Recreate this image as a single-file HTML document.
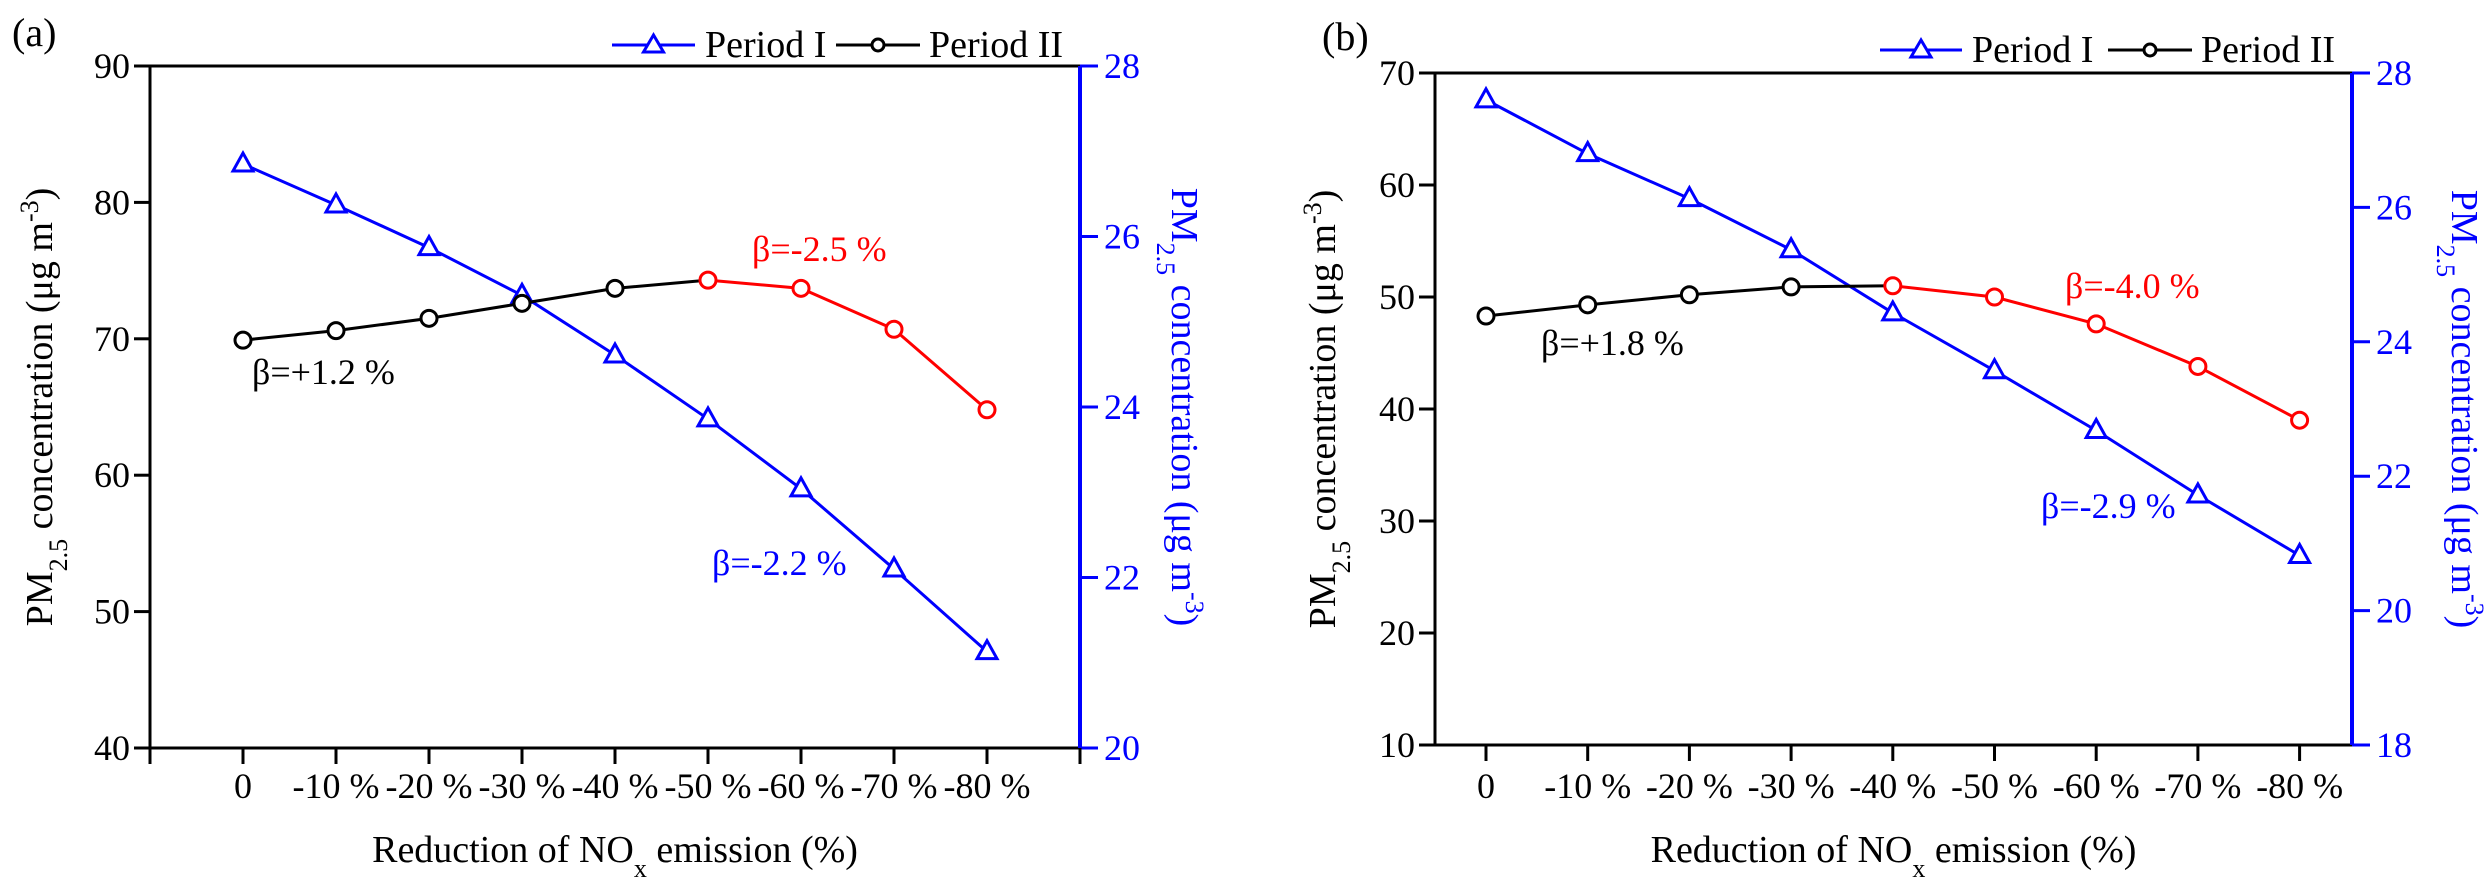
<!DOCTYPE html>
<html><head><meta charset="utf-8"><style>
body{margin:0;background:#fff}
svg, svg text{font-family:"Liberation Serif","DejaVu Serif",serif}
</style></head><body>
<svg id="c" width="2487" height="890" viewBox="0 0 2487 890" xmlns="http://www.w3.org/2000/svg" font-family="Liberation Serif, serif"></svg>
<script>
const categories = ["0","-10 %","-20 %","-30 %","-40 %","-50 %","-60 %","-70 %","-80 %"];
const aPeriod1 = [26.85,26.37,25.87,25.31,24.61,23.86,23.04,22.10,21.13];
const aPeriod2 = [69.9,70.6,71.5,72.6,73.7,74.3,73.7,70.7,64.8];
const aRedStart = 5;
const aLeftTicks = [40,50,60,70,80,90];
const aRightTicks = [20,22,24,26,28];
const bPeriod1 = [27.6,26.8,26.13,25.37,24.43,23.57,22.68,21.72,20.82];
const bPeriod2 = [48.3,49.3,50.2,50.9,51.0,50.0,47.6,43.8,39.0];
const bRedStart = 4;
const bLeftTicks = [10,20,30,40,50,60,70];
const bRightTicks = [18,20,22,24,26,28];

const svg=document.getElementById('c');
const NS='http://www.w3.org/2000/svg';
const FF='Liberation Serif, serif';
function mk(tag,attrs,parent){const e=document.createElementNS(NS,tag);for(const k in attrs)e.setAttribute(k,attrs[k]);if(tag==='text')e.setAttribute('font-family',FF);(parent||svg).appendChild(e);return e;}

function panel(o){
  const g=mk('g',{});
  
  
  const xs=i=>o.x0+i*o.step;
  const yl=v=>o.bottom-(v-o.lmin)/(o.lmax-o.lmin)*(o.bottom-o.top);
  const yr=v=>o.bottom-(v-o.rmin)/(o.rmax-o.rmin)*(o.bottom-o.top);
  mk('line',{x1:o.left,y1:o.top,x2:o.right,y2:o.top,stroke:'#000','stroke-width':3},g);
  mk('line',{x1:o.left,y1:o.bottom,x2:o.right,y2:o.bottom,stroke:'#000','stroke-width':3},g);
  const la=mk('line',{x1:o.left,y1:o.top,x2:o.left,y2:o.bottom,stroke:'#000','stroke-width':3},g);
  
  const ra=mk('line',{x1:o.right,y1:o.top,x2:o.right,y2:o.bottom,stroke:'#0000ff','stroke-width':4},g);
  
  o.lt.forEach(v=>{
    mk('line',{x1:o.left-16,y1:yl(v),x2:o.left,y2:yl(v),stroke:'#000','stroke-width':3},g);
    const t=mk('text',{x:o.left-20,y:yl(v)+12,'text-anchor':'end','font-size':36,fill:'#000'},g);
    t.textContent=v;
    
  });
  o.rt.forEach(v=>{
    mk('line',{x1:o.right,y1:yr(v),x2:o.right+18,y2:yr(v),stroke:'#0000ff','stroke-width':3},g);
    const t=mk('text',{x:o.right+24,y:yr(v)+12,'font-size':36,fill:'#0000ff'},g);
    t.textContent=v;
    
  });
  o.xt.forEach(x=>mk('line',{x1:x,y1:o.bottom,x2:x,y2:o.bottom+16,stroke:'#000','stroke-width':3},g));
  categories.forEach((c,i)=>{
    const t=mk('text',{x:xs(i),y:798,'text-anchor':'middle','font-size':36,fill:'#000'},g);
    t.textContent=c;
    
  });
  const xt=mk('text',{x:(o.left+o.right)/2,y:862,'text-anchor':'middle','font-size':38,fill:'#000'},g);
  xt.innerHTML='Reduction of NO<tspan baseline-shift="sub" font-size="26">x</tspan> emission (%)';
  
  const yt=mk('text',{transform:`translate(${o.ltx},${(o.top+o.bottom)/2}) rotate(-90)`,'text-anchor':'middle','font-size':38,fill:'#000'},g);
  yt.innerHTML='PM<tspan baseline-shift="sub" font-size="26">2.5</tspan> concentration (μg m<tspan baseline-shift="super" font-size="26">-3</tspan>)';
  
  const yt2=mk('text',{transform:`translate(${o.rtx},${(o.top+o.bottom)/2}) rotate(90)`,'text-anchor':'middle','font-size':38,fill:'#0000ff'},g);
  yt2.innerHTML='PM<tspan baseline-shift="sub" font-size="26">2.5</tspan> concentration (μg m<tspan baseline-shift="super" font-size="26">-3</tspan>)';
  
  const p1=o.p1.map((v,i)=>xs(i)+','+yr(v)).join(' ');
  const l1=mk('polyline',{points:p1,fill:'none',stroke:'#0000ff','stroke-width':3},g);
  
  o.p1.forEach((v,i)=>{
    const x=xs(i),y=yr(v);
    const m=mk('polygon',{points:`${x},${y-11} ${x-10},${y+7} ${x+10},${y+7}`,fill:'#fff',stroke:'#0000ff','stroke-width':3},g);
    
  });
  const blk=o.p2.slice(0,o.rs+1).map((v,i)=>xs(i)+','+yl(v)).join(' ');
  const red=o.p2.slice(o.rs).map((v,i)=>xs(i+o.rs)+','+yl(v)).join(' ');
  const l2=mk('polyline',{points:blk,fill:'none',stroke:'#000','stroke-width':3},g);
  
  const l3=mk('polyline',{points:red,fill:'none',stroke:'#ff0000','stroke-width':3},g);
  
  o.p2.forEach((v,i)=>{
    const m=mk('circle',{cx:xs(i),cy:yl(v),r:8,fill:'#fff',stroke:i>=o.rs?'#ff0000':'#000','stroke-width':3},g);
    
  });
  o.ann.forEach(a=>{
    const t=mk('text',{x:a[0],y:a[1],'font-size':36,fill:a[3]},g);
    t.textContent=a[2];
    
  });
  const pl=mk('text',{x:o.lab[0],y:o.lab[1],'font-size':40,fill:'#000'},g);
  pl.textContent=o.lab[2];
  
  const L=o.leg;
  mk('line',{x1:L[0],y1:L[4],x2:L[1],y2:L[4],stroke:'#0000ff','stroke-width':3},g);
  const lx=(L[0]+L[1])/2;
  mk('polygon',{points:`${lx},${L[4]-10} ${lx-10},${L[4]+7} ${lx+10},${L[4]+7}`,fill:'#fff',stroke:'#0000ff','stroke-width':3},g);
  const lt1=mk('text',{x:L[1]+10,y:L[4]+12,'font-size':38,fill:'#000'},g);
  lt1.textContent='Period I';
  
  mk('line',{x1:L[2],y1:L[4],x2:L[3],y2:L[4],stroke:'#000','stroke-width':3},g);
  mk('circle',{cx:(L[2]+L[3])/2,cy:L[4],r:6,fill:'#fff',stroke:'#000','stroke-width':3},g);
  const lt2=mk('text',{x:L[3]+9,y:L[4]+12,'font-size':38,fill:'#000'},g);
  lt2.textContent='Period II';
  
}
const aTicks=[];for(let k=0;k<=10;k++)aTicks.push(150+k*93);
panel({id:'a',left:150,right:1080,top:66,bottom:748,x0:243,step:93,lmin:40,lmax:90,rmin:20,rmax:28,
  lt:aLeftTicks,rt:aRightTicks,xt:aTicks,p1:aPeriod1,p2:aPeriod2,rs:aRedStart,ltx:52,rtx:1172,
  ann:[[252,384,'β=+1.2 %','#000'],[752,261,'β=-2.5 %','#ff0000'],[712,575,'β=-2.2 %','#0000ff']],
  lab:[12,46,'(a)'],leg:[612,695,836,920,45]});
const bTicks=[];for(let k=0;k<9;k++)bTicks.push(1486+k*101.7);
panel({id:'b',left:1435,right:2352,top:73,bottom:745,x0:1486,step:101.7,lmin:10,lmax:70,rmin:18,rmax:28,
  lt:bLeftTicks,rt:bRightTicks,xt:bTicks,p1:bPeriod1,p2:bPeriod2,rs:bRedStart,ltx:1335,rtx:2452,
  ann:[[1541,355,'β=+1.8 %','#000'],[2065,298,'β=-4.0 %','#ff0000'],[2041,518,'β=-2.9 %','#0000ff']],
  lab:[1322,50,'(b)'],leg:[1880,1962,2108,2192,50]});
</script>
</body></html>
